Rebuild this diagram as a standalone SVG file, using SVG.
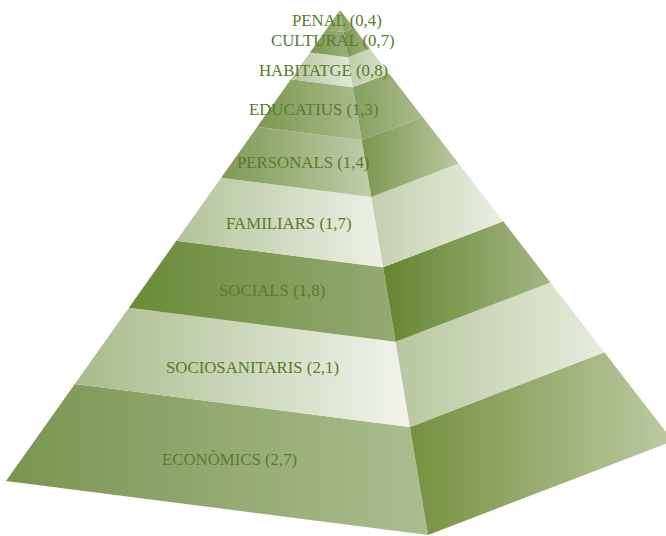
<svg xmlns="http://www.w3.org/2000/svg" width="666" height="536" viewBox="0 0 666 536">
<defs>
<linearGradient id="l1" x1="0" y1="0" x2="1" y2="0"><stop offset="0" stop-color="#8aa260"/><stop offset="1" stop-color="#a5b888"/></linearGradient>
<linearGradient id="r1" x1="0" y1="0" x2="1" y2="0"><stop offset="0" stop-color="#7f9a55"/><stop offset="1" stop-color="#9fb37f"/></linearGradient>
<linearGradient id="l2" x1="0" y1="0" x2="1" y2="0"><stop offset="0" stop-color="#7d9851"/><stop offset="1" stop-color="#98ad76"/></linearGradient>
<linearGradient id="r2" x1="0" y1="0" x2="1" y2="0"><stop offset="0" stop-color="#7a9550"/><stop offset="1" stop-color="#a0b47f"/></linearGradient>
<linearGradient id="l3" x1="0" y1="0" x2="1" y2="0"><stop offset="0" stop-color="#b5c59c"/><stop offset="1" stop-color="#e2e9d7"/></linearGradient>
<linearGradient id="r3" x1="0" y1="0" x2="1" y2="0"><stop offset="0" stop-color="#c0ceaa"/><stop offset="1" stop-color="#d8e1ca"/></linearGradient>
<linearGradient id="l4" x1="0" y1="0" x2="1" y2="0"><stop offset="0" stop-color="#7c9750"/><stop offset="1" stop-color="#aabc8d"/></linearGradient>
<linearGradient id="r4" x1="0" y1="0" x2="1" y2="0"><stop offset="0" stop-color="#85a05c"/><stop offset="1" stop-color="#a9bb8c"/></linearGradient>
<linearGradient id="l5" x1="0" y1="0" x2="1" y2="0"><stop offset="0" stop-color="#7e9953"/><stop offset="1" stop-color="#c1ceab"/></linearGradient>
<linearGradient id="r5" x1="0" y1="0" x2="1" y2="0"><stop offset="0" stop-color="#7b964e"/><stop offset="1" stop-color="#b9c8a0"/></linearGradient>
<linearGradient id="l6" x1="0" y1="0" x2="1" y2="0"><stop offset="0" stop-color="#b2c398"/><stop offset="1" stop-color="#edf1e6"/></linearGradient>
<linearGradient id="r6" x1="0" y1="0" x2="1" y2="0"><stop offset="0" stop-color="#c3d0ae"/><stop offset="1" stop-color="#e9eee1"/></linearGradient>
<linearGradient id="l7" x1="0" y1="0" x2="1" y2="0"><stop offset="0" stop-color="#6a8a38"/><stop offset="1" stop-color="#95aa72"/></linearGradient>
<linearGradient id="r7" x1="0" y1="0" x2="1" y2="0"><stop offset="0" stop-color="#658531"/><stop offset="1" stop-color="#a3b682"/></linearGradient>
<linearGradient id="l8" x1="0" y1="0" x2="1" y2="0"><stop offset="0" stop-color="#a8bb8a"/><stop offset="1" stop-color="#f1f4ec"/></linearGradient>
<linearGradient id="r8" x1="0" y1="0" x2="1" y2="0"><stop offset="0" stop-color="#b7c79e"/><stop offset="1" stop-color="#e7ecdd"/></linearGradient>
<linearGradient id="l9" x1="0" y1="0" x2="1" y2="0"><stop offset="0" stop-color="#7a9550"/><stop offset="1" stop-color="#abbd8f"/></linearGradient>
<linearGradient id="r9" x1="0" y1="0" x2="1" y2="0"><stop offset="0" stop-color="#76913f"/><stop offset="1" stop-color="#bccaa3"/></linearGradient>
</defs>
<style>
text{font-family:"Liberation Serif","Times New Roman",serif;font-size:16.8px;fill:#5b7b2c}
</style>
<rect width="666" height="536" fill="#ffffff"/>
<g id="economics">
<polygon points="74.8,384 409.9,426.9 428,535 6,481" fill="url(#l9)"/>
<polygon points="409.9,426.9 604.4,352.2 673,441 428,535" fill="url(#r9)"/>
<text x="162" y="465">ECONÒMICS (2,7)</text>
</g>
<g id="sociosanitaris">
<polygon points="128.9,307.7 395.6,341.8 409.9,426.9 74.8,384" fill="url(#l8)"/>
<polygon points="395.6,341.8 550.5,282.4 604.4,352.2 409.9,426.9" fill="url(#r8)"/>
<text x="166" y="373">SOCIOSANITARIS (2,1)</text>
</g>
<g id="socials">
<polygon points="176.3,240.8 383.1,267.3 395.6,341.8 128.9,307.7" fill="url(#l7)"/>
<polygon points="383.1,267.3 503.2,221.2 550.5,282.4 395.6,341.8" fill="url(#r7)"/>
<text x="219" y="296">SOCIALS (1,8)</text>
</g>
<g id="familiars">
<polygon points="221.1,177.7 371.3,196.9 383.1,267.3 176.3,240.8" fill="url(#l6)"/>
<polygon points="371.3,196.9 458.6,163.4 503.2,221.2 383.1,267.3" fill="url(#r6)"/>
<text x="226" y="229">FAMILIARS (1,7)</text>
</g>
<g id="personals">
<polygon points="257.2,126.8 361.8,140.2 371.3,196.9 221.1,177.7" fill="url(#l5)"/>
<polygon points="361.8,140.2 422.6,116.9 458.6,163.4 371.3,196.9" fill="url(#r5)"/>
<text x="237" y="168">PERSONALS (1,4)</text>
</g>
<g id="educatius">
<polygon points="290.9,79.2 352.9,87.2 361.8,140.2 257.2,126.8" fill="url(#l4)"/>
<polygon points="352.9,87.2 389,73.4 422.6,116.9 361.8,140.2" fill="url(#r4)"/>
<text x="249" y="115">EDUCATIUS (1,3)</text>
</g>
<g id="habitatge">
<polygon points="309.9,52.4 347.9,57.3 352.9,87.2 290.9,79.2" fill="url(#l3)"/>
<polygon points="347.9,57.3 370,48.8 389,73.4 352.9,87.2" fill="url(#r3)"/>
<text x="259" y="76">HABITATGE (0,8)</text>
</g>
<g id="cultural">
<polygon points="326,29.8 343.7,32.1 347.9,57.3 309.9,52.4" fill="url(#l2)"/>
<polygon points="343.7,32.1 354,28.1 370,48.8 347.9,57.3" fill="url(#r2)"/>
<text x="271" y="46">CULTURAL (0,7)</text>
</g>
<g id="penal">
<polygon points="340,10 343.7,32.1 326,29.8" fill="url(#l1)"/>
<polygon points="340,10 354,28.1 343.7,32.1" fill="url(#r1)"/>
<text x="292" y="26">PENAL (0,4)</text>
</g>
</svg>
